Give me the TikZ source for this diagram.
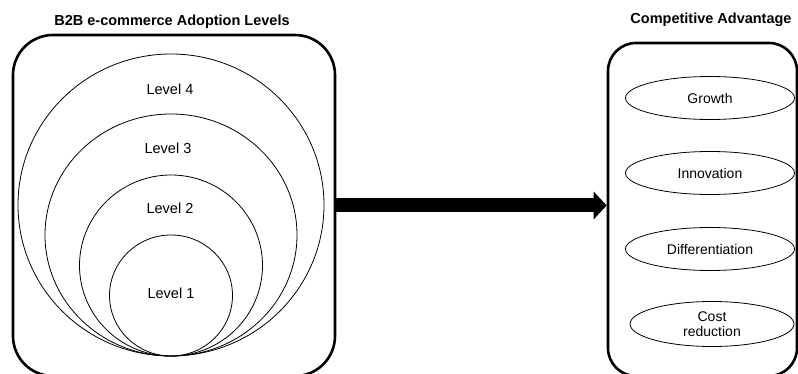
\documentclass[tikz,border=0pt]{standalone}
\usepackage{fontspec}
\setmainfont{Liberation Sans}
\usetikzlibrary{shapes.geometric,arrows.meta}
\begin{document}
\begin{tikzpicture}[x=1pt,y=-1pt,
  panel/.style={draw, line width=2.6pt, rounded corners=40pt, minimum width=322pt, inner sep=0pt},
  ring/.style={draw, ellipse, line width=0.8pt, inner sep=0pt},
  leaf/.style={draw, ellipse, line width=0.8pt, inner sep=0pt, minimum width=169pt, minimum height=43pt,
    font=\fontsize{14}{16}\selectfont, align=center},
  title/.style={font=\fontsize{14.5}{16}\selectfont\bfseries},
  lvl/.style={font=\fontsize{14.5}{16}\selectfont},
  bigarrow/.style={line width=14pt, -{Triangle[length=13pt,width=27pt]}}
]
\useasboundingbox (0,0) rectangle (798,374);
\clip (0,0) rectangle (798,374);

% left panel: adoption levels
\node[title] (t1) at (172,22) {B2B e-commerce Adoption Levels};
\node[panel, minimum width=322pt, minimum height=341pt] (left) at (174,205.5) {};

\node[ring, minimum width=306pt, minimum height=302pt] (c4) at (171,205) {};
\node[ring, minimum width=252pt, minimum height=242pt] (c3) at (171,235) {};
\node[ring, minimum width=183pt, minimum height=181pt] (c2) at (171,265.5) {};
\node[ring, minimum width=123pt, minimum height=121pt] (c1) at (171,295.5) {};

\node[lvl] (l4) at (170,89) {Level 4};
\node[lvl] (l3) at (168,148) {Level 3};
\node[lvl] (l2) at (170,208) {Level 2};
\node[lvl] (l1) at (171,293) {Level 1};

% right panel: competitive advantage
\node[title] (t2) at (711,20) {Competitive Advantage};
\node[draw, line width=2.6pt, rounded corners=28pt, inner sep=0pt,
      minimum width=189pt, minimum height=333pt] (right) at (702.5,209.5) {};

\node[leaf] (g) at (710,98) {Growth};
\node[leaf] (i) at (710,173) {Innovation};
\node[leaf] (d) at (710,249) {Differentiation};
\node[leaf, minimum width=164pt, minimum height=45pt] (c) at (712,324) {Cost\\[-1pt]reduction};

% link between the panels
\draw[bigarrow] (left.east) -- (left.east -| right.west);
\end{tikzpicture}
\end{document}
